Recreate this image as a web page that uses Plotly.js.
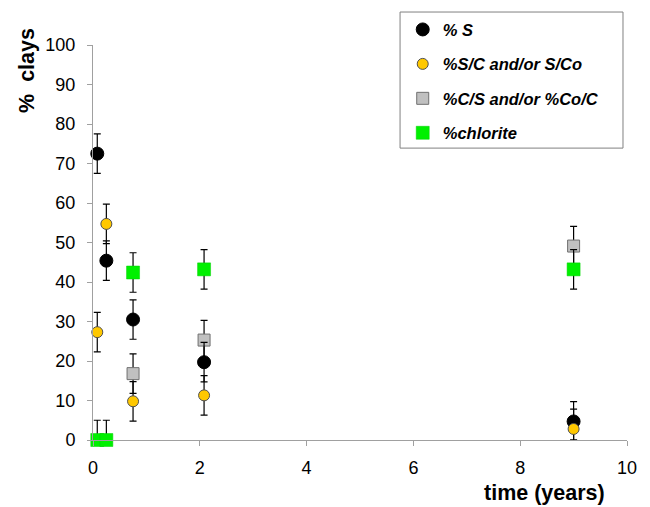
<!DOCTYPE html>
<html>
<head>
<meta charset="utf-8">
<script src="https://cdn.plot.ly/plotly-3.0.1.min.js"></script>
<style>html,body{margin:0;padding:0;background:#fff;}#chart{width:650px;height:507px;}</style>
</head>
<body>
<div id="chart"></div>
<script>
// Data
const timeYears = [0.08, 0.25, 0.75, 2.08, 9.0];
const pctS      = [72.5, 45.4, 30.5, 19.7, 4.7];
const pctSC     = [27.3, 54.7, 9.8, 11.3, 2.8];
const pctCS     = [null, null, 16.8, 25.3, 49.1];
const pctChl    = [0, 0, 42.4, 43.2, 43.2];
const errPlus   = [5, 5, 5, 5, 5];
const errMinusS   = [5, 5, 5, 5, 4.7];
const errMinusSC  = [5, 5, 5, 5, 2.8];
const errMinusCS  = [5, 5, 5, 5, 5];
const errMinusChl = [0, 0, 5, 5, 5];
const seriesNames = ['% S', '%S/C and/or S/Co', '%C/S and/or %Co/C', '%chlorite'];
const xTicks = [0, 2, 4, 6, 8, 10];
const yTicks = [0, 10, 20, 30, 40, 50, 60, 70, 80, 90, 100];

function errY(plus, minus) {
  return {type: 'data', symmetric: false, array: plus, arrayminus: minus,
          color: '#000', thickness: 1.2, width: 3.5};
}

const traces = [
  {x: timeYears, y: pctCS, name: seriesNames[2], mode: 'markers', type: 'scatter',
   marker: {symbol: 'square', size: 12, color: '#c0c0c0', line: {color: '#707070', width: 1}},
   error_y: errY(errPlus, errMinusCS), legendrank: 3, legendgroup: 'c', cliponaxis: false},
  {x: timeYears, y: pctChl, name: seriesNames[3], mode: 'markers', type: 'scatter',
   marker: {symbol: 'square', size: 13, color: '#00f000', line: {color: '#00d000', width: 0.5}},
   error_y: errY(errPlus, errMinusChl), legendrank: 4, legendgroup: 'd', cliponaxis: false},
  {x: timeYears, y: pctS, name: seriesNames[0], mode: 'markers', type: 'scatter',
   marker: {symbol: 'circle', size: 13, color: '#000', line: {color: '#000', width: 1}},
   error_y: errY(errPlus, errMinusS), legendrank: 1, legendgroup: 'a', cliponaxis: false},
  {x: timeYears, y: pctSC, name: seriesNames[1], mode: 'markers', type: 'scatter',
   marker: {symbol: 'circle', size: 11, color: '#ffc800', line: {color: '#505050', width: 1}},
   error_y: errY(errPlus, errMinusSC), legendrank: 2, legendgroup: 'b', cliponaxis: false}
];

const axisFont = {family: 'Liberation Sans, Arial, sans-serif', size: 18, color: '#000'};
const layout = {
  width: 650, height: 507,
  margin: {l: 93, r: 23, t: 45, b: 67},
  paper_bgcolor: '#fff', plot_bgcolor: '#fff',
  showlegend: true,
  legend: {
    x: 0.58, y: 1.083, xanchor: 'left', yanchor: 'top',
    borderwidth: 0, bgcolor: 'rgba(0,0,0,0)',
    font: {family: 'Liberation Sans, Arial, sans-serif', size: 16.5, color: '#000', weight: 'bold', style: 'italic'},
    traceorder: 'grouped', tracegroupgap: 10, itemwidth: 30
  },
  xaxis: {
    range: [0, 10], tickvals: xTicks, ticktext: xTicks.map(String),
    showgrid: false, zeroline: false, showline: true, linecolor: '#a0a0a0', linewidth: 1,
    ticks: 'outside', ticklen: 5, tickcolor: '#a0a0a0', tickfont: axisFont, ticklabelstandoff: 6
  },
  yaxis: {
    range: [0, 100], tickvals: yTicks, ticktext: yTicks.map(String),
    showgrid: false, zeroline: false, showline: true, linecolor: '#a0a0a0', linewidth: 1,
    ticks: 'outside', ticklen: 5, tickcolor: '#a0a0a0', tickfont: axisFont, ticklabelstandoff: 8
  },
  shapes: [
    {type: 'rect', xref: 'paper', yref: 'paper', x0: 0.575, x1: 0.9925, y0: 0.739, y1: 1.0835,
     line: {color: '#808080', width: 1}, fillcolor: 'rgba(0,0,0,0)', layer: 'above'}
  ],
  annotations: [
    {text: 'time (years)', xref: 'paper', yref: 'paper', x: 0.963, y: -0.135,
     xanchor: 'right', yanchor: 'middle', showarrow: false,
     font: {family: 'Liberation Sans, Arial, sans-serif', size: 21.5, color: '#000', weight: 'bold'}},
    {text: '%&nbsp;&nbsp;clays', xref: 'paper', yref: 'paper', x: -0.125, y: 0.935,
     xanchor: 'center', yanchor: 'middle', showarrow: false, textangle: -90,
     font: {family: 'Liberation Sans, Arial, sans-serif', size: 21.5, color: '#000', weight: 'bold'}}
  ]
};

Plotly.newPlot('chart', traces, layout, {staticPlot: true, displayModeBar: false});
</script>
</body>
</html>
